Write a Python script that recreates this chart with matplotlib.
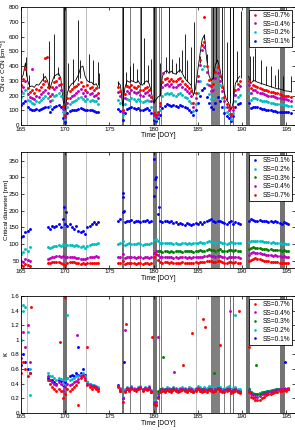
import numpy as np
import matplotlib
matplotlib.use('Agg')
from matplotlib import pyplot as plt
from matplotlib.ticker import FormatStrFormatter

plt.rcParams['font.family'] = ['Liberation Sans', 'DejaVu Sans']
plt.rcParams['mathtext.default'] = 'regular'

nan = np.nan

# sampling times of the three measurement periods [DOY]
tA = np.arange(165.0, 173.76, 0.25)
tB = np.arange(176.0, 189.76, 0.25)
tC = np.arange(190.75, 195.51, 0.25)

# ---------------- panel 1: CN and CCN concentration [cm-3] ----------------
cn_A = [310, 340, 420, 300, 260, 265, 255, 275, 270, 290, 310, 330, 300, 240, 290, 330, 340, 350,
        320, 170, 100, 220, 260, 280, 290, 310, 340, 390, 400, 330, 300, 290, 290, 270, 280, 250]
cn_B = [290, 270, 130, 250, 300, 290, 300, 295, 285, 300, 275, 270, 290, 300, 280, 220, 150, 170,
        190, 200, 330, 360, 370, 350, 365, 350, 345, 360, 375, 350, 320, 300, 285, 270, 200, 250,
        370, 480, 580, 610, 450, 340, 300, 320, 410, 440, 380, 300, 220, 170, 150, 100, 150, 280, 310, 330]
cn_C = [330, 280, 300, 300, 290, 285, 280, 275, 270, 265, 260, 255, 250, 245, 245, 240, 235, 230, 230, 225]

# short CN spikes: time, top, bottom
spike_t = [165.57, 165.9, 167.5, 168.2, 168.74, 169.2, 169.9, 170.36, 170.85, 171.49, 171.65, 172.74,
           173.19, 173.68, 173.8, 175.95, 176.52, 176.89, 177.3, 177.7, 178.1, 178.55, 178.93, 179.4,
           179.7, 180.1, 180.7, 181.38, 181.79, 182.1, 182.55, 182.9, 183.2, 183.57, 183.83, 184.2,
           184.6, 185.2, 185.75, 186.03, 186.7, 187.1, 187.73, 188.3, 188.59, 189.04, 189.42, 189.87,
           190.9, 191.2, 191.5, 192.18, 192.71, 193.27, 193.7, 194.1, 194.6, 195.5]
spike_top = [460, 340, 350, 570, 620, 390, 800, 420, 450, 710, 440, 480, 440, 430, 350, 300, 800, 360,
             400, 420, 380, 800, 590, 410, 450, 800, 420, 460, 800, 450, 420, 460, 510, 620, 440, 530,
             700, 470, 620, 480, 800, 800, 800, 560, 800, 800, 500, 770, 470, 470, 520, 440, 400, 400,
             340, 380, 330, 330]
spike_bot = [330, 260, 300, 250, 320, 340, 150, 240, 270, 300, 320, 290, 280, 270, 250, 250, 130, 260,
             290, 300, 290, 280, 280, 290, 230, 150, 200, 350, 360, 350, 345, 360, 360, 320, 300, 270,
             220, 420, 580, 420, 310, 420, 300, 170, 150, 150, 290, 320, 300, 300, 300, 280, 270, 260,
             255, 245, 235, 225]

ccn07_A = [270, 310, 380, 250, 225, 235, 220, 245, 240, 260, 280, 295, 260, 195, 255, 290, 300, 320,
           280, 130, 70, 180, 230, 245, 255, 265, 280, 290, 265, 240, 270, 250, 260, 235, 250, 220]
ccn07_B = [260, 230, 100, 210, 265, 255, 270, 260, 250, 265, 240, 235, 250, 260, 240, 190, 80, 65,
           90, 150, 290, 310, 320, 300, 315, 300, 295, 310, 320, 300, 280, 265, 250, 230, 150, 215,
           330, 440, 545, 565, 400, 305, 265, 280, 360, 390, 330, 260, 190, 145, 125, 75, 125, 240, 280, 300]
ccn07_C = [300, 250, 270, 265, 255, 250, 245, 240, 235, 230, 225, 225, 215, 215, 210, 205, 200, 200, 195, 190]

ccn04_A = [230, 260, 300, 210, 190, 180, 175, 195, 190, 210, 225, 240, 215, 160, 210, 245, 255, 270,
           240, 110, 55, 150, 185, 200, 205, 215, 230, 245, 220, 200, 225, 210, 215, 200, 205, 185]
ccn04_B = [225, 200, 85, 180, 230, 220, 235, 225, 215, 225, 205, 200, 215, 225, 205, 160, 65, 55,
           75, 130, 255, 270, 280, 265, 275, 260, 260, 270, 280, 260, 245, 230, 215, 195, 125, 185,
           300, 410, 510, 530, 360, 270, 230, 240, 320, 355, 300, 230, 165, 125, 105, 60, 105, 205, 245, 265]
ccn04_C = [270, 220, 240, 235, 225, 220, 215, 210, 205, 200, 195, 195, 190, 185, 185, 180, 175, 175, 170, 165]

ccn02_A = [190, 215, 240, 170, 160, 150, 145, 160, 155, 170, 180, 195, 180, 130, 170, 195, 205, 215,
           195, 90, 40, 120, 145, 155, 160, 170, 180, 190, 175, 160, 175, 165, 170, 160, 160, 145]
ccn02_B = [170, 150, 65, 140, 175, 170, 180, 175, 165, 175, 160, 155, 165, 170, 160, 125, 50, 40,
           60, 100, 200, 210, 220, 210, 215, 205, 200, 210, 215, 205, 190, 180, 165, 150, 95, 140,
           220, 300, 380, 400, 280, 210, 175, 185, 270, 340, 270, 180, 125, 90, 75, 40, 80, 160, 190, 205]
ccn02_C = [220, 170, 185, 180, 175, 170, 165, 160, 160, 155, 150, 150, 145, 145, 140, 140, 135, 135, 130, 130]

ccn01_A = [135, 150, 160, 125, 110, 105, 100, 110, 105, 110, 115, 125, 120, 85, 110, 125, 130, 135,
           120, 50, 20, 80, 95, 100, 100, 105, 110, 115, 110, 100, 105, 100, 100, 95, 90, 85]
ccn01_B = [110, 95, 35, 80, 110, 115, 120, 115, 110, 115, 105, 100, 110, 115, 105, 80, 35, 30,
           45, 70, 115, 130, 140, 135, 130, 135, 130, 125, 135, 130, 120, 115, 105, 90, 65, 100,
           150, 200, 240, 250, 190, 150, 120, 110, 150, 190, 165, 120, 80, 60, 45, 25, 60, 120, 140, 150]
ccn01_C = [150, 115, 125, 120, 120, 115, 110, 110, 105, 100, 100, 95, 95, 90, 90, 90, 85, 85, 85, 80]

out1_t = [167.7, 167.9, 166.3, 185.75, 181.1]
out1_v = [455, 460, 380, 730, 355]
out1_c = ['r', 'r', 'm', 'r', 'm']

# ---------------- panel 2: critical diameter [nm] ----------------
gap = [nan] * 7
dc01_A = [120, 125, 135, 140, 145] + gap + [150, 145, 155, 150, 155, 160, 150, 175, 160, 155, 160, 150,
                                            145, 155, 140, 135, 140, 130, 150, 155, 160, 165, 160, 165]
dc01_B = [170, 175, 195, 165, 170, 168, 172, 165, 170, 168, 165, 170, 168, 172, 165, 170, 245, 300,
          190, 170, 165, 168, 170, 165, 168, 162, 165, 160, 163, 160, 158, 162, 160, 158, 160, 162,
          160, 165, 160, 165, 168, 172, 175, 170, 165, 168, 170, 165, 162, 160, 165, 168, 160, 165, 162, 160]
dc01_C = [170, 175, 172, 170, 168, 172, 170, 168, 170, 165, 168, 166, 168, 165, 162, 160, 165, 162, 160, nan]

dc02_A = [70, 75, 85, 80, 90] + gap + [90, 88, 92, 95, 95, 97, 95, 100, 98, 96, 98, 97,
                                       95, 97, 94, 92, 93, 88, 95, 98, 100, 99, 100, 102]
dc02_B = [100, 102, 110, 98, 100, 102, 100, 101, 99, 102, 100, 98, 101, 100, 99, 102, 112, 115,
          108, 104, 102, 103, 104, 102, 103, 101, 102, 100, 101, 103, 102, 100, 102, 101, 103, 102,
          104, 105, 103, 104, 106, 108, 107, 105, 104, 106, 107, 103, 102, 101, 104, 105, 102, 104, 103, 102]
dc02_C = [105, 108, 110, 109, 108, 110, 108, 106, 107, 105, 104, 105, 103, 104, 102, 101, 102, 100, 101, nan]

dc03_A = [nan] * 36
dc03_B = [nan] * 18 + [80, 78, 76, 78, 80, 77, 79, 76, 78, 80, 79, 77, 78, 80, 79, 78, 76, 78, 80,
                       82, 80, 79, 82, 84, 83, 81, 80, 82, 84, 80, 78, 79, 82, 83, 80, 81, 80, 79]
dc03_C = [85, 88, 90, 88, 87, 89, 86, 85, 84, 83, 84, 82, 83, 81, 82, 80, 81, 80, 79, nan]

dc04_A = [50, 45, 55, 52, 48] + gap + [55, 58, 60, 62, 63, 64, 62, 65, 62, 60, 62, 61,
                                       60, 59, 57, 55, 56, 54, 58, 60, 62, 61, 63, 62]
dc04_B = [60, 62, 70, 58, 60, 61, 62, 60, 59, 61, 60, 58, 60, 61, 59, 62, 72, 78,
          66, 62, 60, 61, 62, 60, 61, 59, 60, 58, 60, 61, 60, 59, 60, 58, 60, 61,
          60, 62, 61, 63, 64, 66, 65, 63, 62, 64, 65, 62, 60, 59, 61, 62, 60, 61, 60, 59]
dc04_C = [68, 72, 75, 74, 73, 72, 70, 69, 68, 67, 66, 65, 66, 64, 63, 62, 63, 62, 61, nan]

dc07_A = [38, 35, 40, 36, 34] + gap + [42, 44, 45, 46, 47, 46, 44, 40, 38, 44, 45, 46,
                                       45, 44, 42, 41, 42, 40, 42, 43, 44, 43, 44, 43]
dc07_B = [42, 43, 48, 40, 42, 43, 44, 42, 41, 43, 42, 40, 42, 43, 41, 44, 60, 70,
          52, 46, 44, 45, 46, 44, 45, 43, 44, 42, 44, 45, 44, 43, 44, 42, 44, 45,
          44, 46, 45, 47, 48, 50, 48, 47, 46, 48, 49, 46, 44, 43, 45, 46, 44, 45, 44, 43]
dc07_C = [48, 52, 56, 58, 55, 54, 52, 50, 49, 48, 47, 46, 45, 46, 44, 43, 44, 43, 42, nan]

out2_t = [169.9, 170.1, 176.5, 176.55, 176.7, 180.0, 180.2, 180.3, 180.6]
out2_v = [210, 195, 252, 240, 200, 355, 295, 270, 210]

# ---------------- panel 3: hygroscopicity kappa ----------------
k07_A = [0.55, 0.7, 0.6, 0.5, 0.55] + gap + [0.45, 0.4, 0.35, 0.32, 0.3, 0.33, 0.3, 0.2, 0.25, 0.32,
                                             0.3, 0.33, 0.35, 0.38, 0.42, 0.48, 0.5, 0.45, 0.38, 0.35,
                                             0.33, 0.35, 0.32, 0.3]
k07_B = [0.35, 0.3, 0.15, 0.28, 0.32, 0.3, 0.33, 0.31, 0.3, 0.32, 0.34, 0.3, 0.32, 0.31, 0.33, 0.28,
         0.12, 0.1, 0.2, 0.28, 0.3, 0.28, 0.31, 0.3, 0.29, 0.31, 0.3, 0.28, 0.3, 0.31, 0.3, 0.29, 0.31,
         0.3, 0.28, 0.3, 0.32, 0.3, 0.28, 0.3, 0.29, 0.31, 0.3, 0.28, 0.3, 0.32, 0.3, 0.28, 0.29, 0.3,
         0.31, 0.27, 0.29, 0.3, 0.28, 0.27]
k07_C = [0.28, 0.22, 0.2, 0.18, 0.17, 0.18, 0.2, 0.22, 0.24, 0.25, 0.26, 0.27, 0.28, 0.29, 0.3, 0.3,
         0.31, 0.3, 0.32, nan]

k04_A = [0.75, 1.1, 0.9, 1.2, 0.7] + gap + [0.5, 0.45, 0.42, 0.4, 0.38, 0.42, 0.4, 0.3, 0.35, 0.4,
                                            0.38, 0.4, 0.42, 0.44, 0.46, 0.5, 0.52, 0.48, 0.4, 0.38,
                                            0.36, 0.37, 0.35, 0.33]
k04_B = [0.36, 0.33, 0.2, 0.3, 0.34, 0.33, 0.35, 0.33, 0.32, 0.34, 0.35, 0.32, 0.34, 0.33, 0.35, 0.3,
         0.15, 0.14, 0.25, 0.3, 0.32, 0.31, 0.33, 0.32, 0.31, 0.33, 0.32, 0.3, 0.32, 0.33, 0.32, 0.31,
         0.33, 0.32, 0.3, 0.32, 0.34, 0.32, 0.3, 0.32, 0.31, 0.33, 0.32, 0.3, 0.32, 0.34, 0.32, 0.3,
         0.31, 0.32, 0.33, 0.3, 0.31, 0.32, 0.3, 0.29]
k04_C = [0.3, 0.26, 0.24, 0.22, 0.22, 0.23, 0.25, 0.26, 0.27, 0.28, 0.29, 0.3, 0.3, 0.31, 0.32, 0.32,
         0.33, 0.32, 0.33, nan]

k03_A = [nan] * 36
k03_B = [nan] * 18 + [0.3, 0.32, 0.3, 0.33, 0.31, 0.3, 0.32, 0.34, 0.31, 0.3, 0.32, 0.33, 0.31, 0.3,
                      0.32, 0.3, 0.28, 0.31, 0.33, 0.3, 0.32, 0.3, 0.31, 0.33, 0.32, 0.3, 0.31, 0.34,
                      0.32, 0.3, 0.31, 0.32, 0.33, 0.3, 0.31, 0.32, 0.3, 0.29]
k03_C = [0.32, 0.28, 0.26, 0.25, 0.25, 0.26, 0.27, 0.28, 0.29, 0.3, 0.3, 0.31, 0.31, 0.32, 0.32, 0.33,
         0.33, 0.32, 0.33, nan]

k02_A = [1.0, 1.4, 1.45, 1.1, 0.6] + gap + [0.55, 0.5, 0.5, 0.48, 0.45, 0.48, 0.46, 0.4, 0.45, 0.48,
                                            0.45, 0.46, 0.48, 0.5, 0.5, 0.52, 0.55, 0.5, 0.42, 0.4,
                                            0.38, 0.38, 0.36, 0.35]
k02_B = [0.36, 0.34, 0.22, 0.32, 0.35, 0.34, 0.36, 0.34, 0.33, 0.35, 0.36, 0.33, 0.35, 0.34, 0.36, 0.31,
         0.18, 0.15, 0.28, 0.33, 0.34, 0.33, 0.35, 0.34, 0.33, 0.35, 0.34, 0.33, 0.34, 0.35, 0.34, 0.33,
         0.35, 0.34, 0.33, 0.34, 0.36, 0.35, 0.33, 0.35, 0.34, 0.36, 0.35, 0.33, 0.35, 0.37, 0.35, 0.33,
         0.34, 0.35, 0.36, 0.33, 0.34, 0.35, 0.33, 0.32]
k02_C = [0.32, 0.28, 0.27, 0.26, 0.26, 0.27, 0.28, 0.29, 0.3, 0.3, 0.31, 0.31, 0.32, 0.32, 0.33, 0.33,
         0.34, 0.33, 0.34, nan]

k01_A = [0.65, 0.8, 0.7, 0.6, 0.55] + gap + [0.48, 0.45, 0.45, 0.42, 0.4, 0.45, 0.44, 0.38, 0.42, 0.48,
                                             0.5, 0.52, 0.5, 0.54, 0.52, 0.55, 0.6, 0.52, 0.42, 0.4,
                                             0.38, 0.36, 0.35, 0.34]
k01_B = [0.38, 0.3, 0.2, 0.3, 0.33, 0.32, 0.34, 0.32, 0.31, 0.33, 0.34, 0.31, 0.33, 0.32, 0.34, 0.28,
         0.12, 0.1, 0.22, 0.3, 0.32, 0.3, 0.33, 0.32, 0.3, 0.32, 0.31, 0.3, 0.32, 0.33, 0.32, 0.3,
         0.32, 0.31, 0.3, 0.32, 0.34, 0.32, 0.3, 0.33, 0.32, 0.34, 0.33, 0.31, 0.33, 0.35, 0.33, 0.31,
         0.32, 0.33, 0.34, 0.31, 0.32, 0.33, 0.31, 0.3]
k01_C = [0.3, 0.27, 0.26, 0.25, 0.26, 0.27, 0.28, 0.28, 0.29, 0.3, 0.3, 0.31, 0.31, 0.32, 0.32, 0.33,
         0.34, 0.33, 0.34, nan]

out3_t = [166.1, 169.4, 170.0, 176.9, 179.8, 185.6, 185.8, 184.4, 187.5, 189.7, 190.85, 183.3, 171.4, 172.5,
          171.3, 176.8, 180.5, 182.3, 188.7,
          170.2, 189.2, 165.2, 166.0,
          181.1, 191.6, 186.8,
          171.5, 176.6, 194.9]
out3_v = [1.45, 0.97, 1.59, 1.21, 1.04, 1.29, 1.18, 1.09, 0.93, 1.39, 0.9, 0.65, 0.1, 0.9,
          1.06, 1.13, 1.04, 0.56, 1.39,
          1.34, 1.34, 1.48, 0.24,
          0.77, 0.65, 0.54,
          0.9, 0.7, 0.7]
out3_c = ['r'] * 14 + ['m'] * 5 + ['c'] * 4 + ['g'] * 3 + ['b'] * 3

# flagged periods (grey bars): start, end, grey level
flag_start = [165.72, 169.74, 170.13, 172.30, 176.40, 177.29, 178.50, 179.91, 180.62, 180.89, 184.77,
              186.55, 187.69, 187.95, 188.59, 189.00, 190.48, 194.33]
flag_end = [165.82, 170.08, 170.22, 172.44, 176.66, 177.39, 178.60, 180.37, 180.71, 180.98, 184.88,
            187.54, 187.78, 188.04, 188.75, 189.09, 190.93, 194.90]
flag_grey = ['0.75', '0.45', '0.45', '0.75', '0.45', '0.5', '0.5', '0.45', '0.5', '0.5', '0.75',
             '0.5', '0.5', '0.5', '0.45', '0.45', '0.45', '0.45']


def join(a, b, c):
    return np.concatenate([np.asarray(a, float), [nan], np.asarray(b, float), [nan], np.asarray(c, float)])


t_all = join(tA, tB, tC)

fig = plt.figure(figsize=(2.95, 4.30), dpi=100)
left, width = 21 / 295, 1 - 21 / 295
ax1 = fig.add_axes([left, 1 - 125 / 430, width, 118 / 430])
ax2 = fig.add_axes([left, 1 - 267.7 / 430, width, 115.4 / 430])
ax3 = fig.add_axes([left, 1 - 412.7 / 430, width, 116.7 / 430])

ms = 2.1
for ax in (ax1, ax2, ax3):
    for s, e, g in zip(flag_start, flag_end, flag_grey):
        ax.axvspan(s, e, color=g, lw=0, zorder=0)

# panel 1
ax1.plot(t_all, join(cn_A, cn_B, cn_C), color='k', lw=0.6, zorder=1)
ax1.vlines(spike_t, spike_bot, spike_top, color='k', lw=0.6, zorder=1)
for vals, col, lab in [(join(ccn01_A, ccn01_B, ccn01_C), 'b', 'SS=0.1%'),
                       (join(ccn02_A, ccn02_B, ccn02_C), 'c', 'SS=0.2%'),
                       (join(ccn04_A, ccn04_B, ccn04_C), 'm', 'SS=0.4%'),
                       (join(ccn07_A, ccn07_B, ccn07_C), 'r', 'SS=0.7%')]:
    ax1.plot(t_all, vals, 'o', color=col, ms=ms, mew=0, label=lab, zorder=2)
for t, v, c in zip(out1_t, out1_v, out1_c):
    ax1.plot(t, v, 'o', color=c, ms=ms, mew=0, zorder=2)
ax1.set_ylim(0, 800)
ax1.set_yticks(range(0, 801, 100))
ax1.set_ylabel('CN or CCN [cm$^{-3}$]', fontsize=4.6)
h, l = ax1.get_legend_handles_labels()
order1 = [3, 2, 1, 0]
leg1 = [h[i] for i in order1], [l[i] for i in order1]

# panel 2
ser2 = [(join(dc07_A, dc07_B, dc07_C), 'r', 'SS=0.7%'),
        (join(dc04_A, dc04_B, dc04_C), 'm', 'SS=0.4%'),
        (join(dc03_A, dc03_B, dc03_C), 'g', 'SS=0.3%'),
        (join(dc02_A, dc02_B, dc02_C), 'c', 'SS=0.2%'),
        (join(dc01_A, dc01_B, dc01_C), 'b', 'SS=0.1%')]
for vals, col, lab in ser2:
    ax2.plot(t_all, vals, 'o', color=col, ms=ms, mew=0, label=lab, zorder=2)
ax2.plot(out2_t, out2_v, 'o', color='b', ms=ms, mew=0, zorder=2)
ax2.set_ylim(29, 375)
ax2.set_yticks(range(50, 351, 50))
ax2.set_ylabel('Critical diameter [nm]', fontsize=4.6)

# panel 3
ser3 = [(join(k01_A, k01_B, k01_C), 'b', 'SS=0.1%'),
        (join(k02_A, k02_B, k02_C), 'c', 'SS=0.2%'),
        (join(k03_A, k03_B, k03_C), 'g', 'SS=0.3%'),
        (join(k04_A, k04_B, k04_C), 'm', 'SS=0.4%'),
        (join(k07_A, k07_B, k07_C), 'r', 'SS=0.7%')]
for vals, col, lab in ser3:
    ax3.plot(t_all, vals, 'o', color=col, ms=ms, mew=0, label=lab, zorder=2)
for t, v, c in zip(out3_t, out3_v, out3_c):
    ax3.plot(t, v, 'o', color=c, ms=ms, mew=0, zorder=2)
ax3.set_ylim(0, 1.6)
ax3.set_yticks(np.arange(0, 1.61, 0.2))
ax3.yaxis.set_major_formatter(FormatStrFormatter('%g'))
ax3.set_ylabel('κ', fontsize=5.5)

legkw = dict(loc='upper right', fontsize=4.8, frameon=True, fancybox=False, framealpha=1,
             edgecolor='k', handlelength=1.2, handletextpad=0.5, borderpad=0.35,
             labelspacing=0.25, borderaxespad=0.4, markerscale=0.9)

for ax in (ax1, ax2, ax3):
    ax.set_xlim(165, 196)
    ax.set_xticks(range(165, 196, 5))
    ax.set_xlabel('Time [DOY]', fontsize=4.8, labelpad=0.5)
    ax.tick_params(direction='in', length=2, width=0.5, labelsize=4.5, pad=1.2,
                   top=True, right=True)
    ax.yaxis.set_label_coords(-0.042, 0.5)
    for sp in ax.spines.values():
        sp.set_linewidth(0.6)

lg = ax1.legend(*leg1, **legkw)
lg.get_frame().set_linewidth(0.6)
h2, l2 = ax2.get_legend_handles_labels()
lg = ax2.legend(h2[::-1], l2[::-1], **legkw)
lg.get_frame().set_linewidth(0.6)
h3, l3 = ax3.get_legend_handles_labels()
lg = ax3.legend(h3[::-1], l3[::-1], **legkw)
lg.get_frame().set_linewidth(0.6)

fig.savefig('out.png', dpi=100)
